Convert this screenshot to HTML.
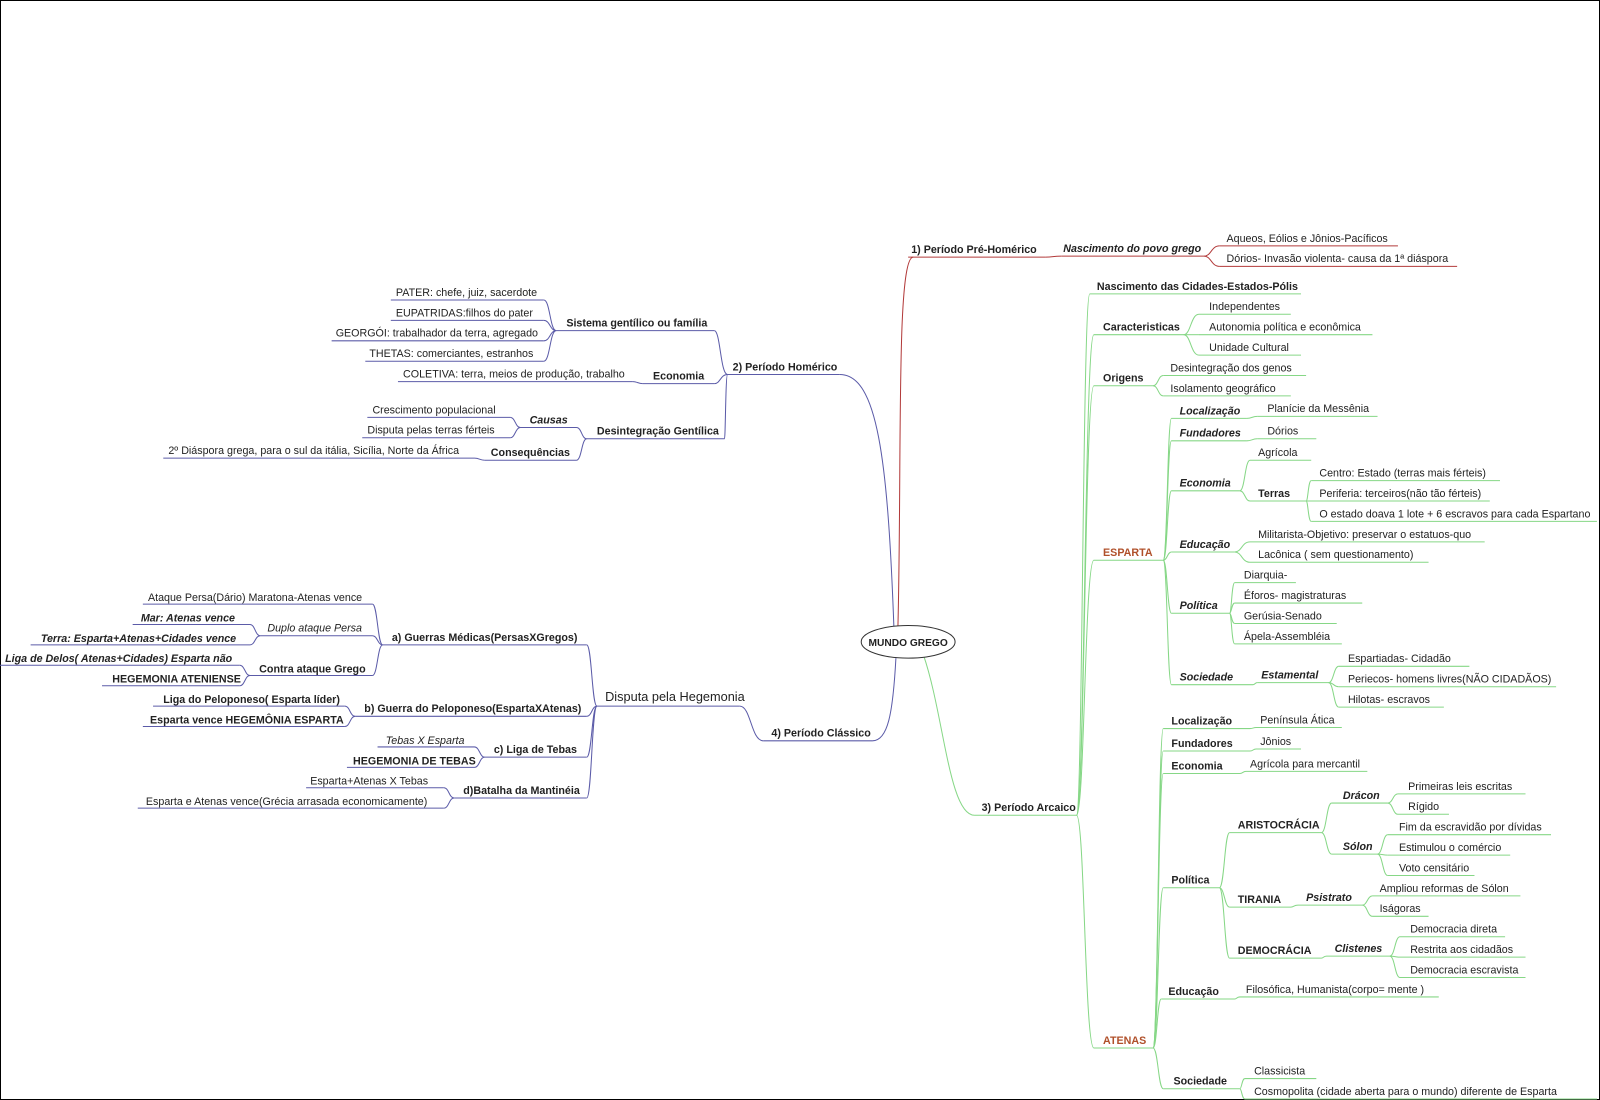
<!DOCTYPE html>
<html><head><meta charset="utf-8"><style>
html,body{margin:0;padding:0;background:#fff;width:1600px;height:1100px;overflow:hidden}
svg{display:block}
text{font-family:"Liberation Sans",Arial,sans-serif;font-size:10.5px;fill:#222}
.b{font-weight:bold}.i{font-style:italic}.bi{font-weight:bold;font-style:italic}
.g path,.g line{stroke:#86d786;fill:none;stroke-width:1}
.u path,.u line{stroke:#5b5ba8;fill:none;stroke-width:1}
.r path,.r line{stroke:#b23a3a;fill:none;stroke-width:1}
.br{fill:#b0502a;font-weight:bold}
</style></head><body>
<svg width="1600" height="1100" viewBox="0 0 1600 1100" xmlns="http://www.w3.org/2000/svg">
<rect x="0.5" y="0.5" width="1599" height="1099" fill="#fff" stroke="#000"/>
<g transform="scale(1.0204)">
<!-- RED -->
<g class="r">
<path d="M880 613C884 450 878 252 895 252"/>
<line x1="890" y1="252" x2="1025" y2="252"/>
<path d="M1025 252C1032 252 1032 251 1040 251"/>
<line x1="1040" y1="251" x2="1180" y2="251"/>
<path d="M1180 251C1187 251 1187 241 1195 241"/><path d="M1180 251C1187 251 1187 261 1195 261"/>
<line x1="1195" y1="241" x2="1370" y2="241"/><line x1="1195" y1="261" x2="1428" y2="261"/>
</g>
<text x="893" y="248" class="b">1) Período Pré-Homérico</text>
<text x="1042" y="247" class="bi">Nascimento do povo grego</text>
<text x="1202" y="237">Aqueos, Eólios e Jônios-Pacíficos</text>
<text x="1202" y="257">Dórios- Invasão violenta- causa da 1ª diáspora</text>

<!-- BLUE -->
<g class="u">
<path d="M876 614C870 450 860 367 823 367"/>
<line x1="713" y1="367" x2="823" y2="367"/>
<path d="M713 367C706 367 706 324 700 324"/><path d="M713 367C706 367 706 376 700 376"/><path d="M713 367C711 367 711 430 710 430"/>
<line x1="545" y1="324" x2="700" y2="324"/>
<path d="M545 324C539 324 539 294 533 294"/><path d="M545 324C539 324 539 314 533 314"/><path d="M545 324C539 324 539 334 533 334"/><path d="M545 324C539 324 539 354 533 354"/>
<line x1="383" y1="294" x2="533" y2="294"/><line x1="383" y1="314" x2="533" y2="314"/><line x1="325" y1="334" x2="533" y2="334"/><line x1="358" y1="354" x2="533" y2="354"/>
<line x1="630" y1="376" x2="700" y2="376"/><path d="M630 376C625 376 625 374 620 374"/><line x1="390" y1="374" x2="620" y2="374"/>
<line x1="575" y1="430" x2="710" y2="430"/>
<path d="M575 430C570 430 570 419 565 419"/><path d="M575 430C570 430 570 451 565 451"/>
<line x1="510" y1="419" x2="565" y2="419"/><line x1="475" y1="451" x2="565" y2="451"/>
<path d="M510 419C505 419 505 409 500 409"/><path d="M510 419C505 419 505 429 500 429"/>
<line x1="360" y1="409" x2="500" y2="409"/><line x1="355" y1="429" x2="500" y2="429"/>
<path d="M475 451C470 451 470 449 465 449"/><line x1="160" y1="449" x2="465" y2="449"/>
<!-- Classico -->
<path d="M878 645C875 700 870 726 855 726"/>
<line x1="748" y1="726" x2="855" y2="726"/>
<path d="M748 726C736 726 736 692 725 692"/>
<line x1="585" y1="692" x2="725" y2="692"/>
<path d="M585 692C580 692 580 632 575 632"/><path d="M585 692C580 692 580 702 575 702"/><path d="M585 692C580 692 580 742 575 742"/><path d="M585 692C580 692 580 782 575 782"/>
<line x1="375" y1="632" x2="575" y2="632"/><line x1="348" y1="702" x2="575" y2="702"/><line x1="475" y1="742" x2="575" y2="742"/><line x1="445" y1="782" x2="575" y2="782"/>
<path d="M375 632C370 632 370 592 365 592"/><path d="M375 632C370 632 370 623 365 623"/><path d="M375 632C370 632 370 662 365 662"/>
<line x1="140" y1="592" x2="365" y2="592"/><line x1="255" y1="623" x2="365" y2="623"/><line x1="245" y1="662" x2="365" y2="662"/>
<path d="M255 623C250 623 250 612 245 612"/><path d="M255 623C250 623 250 632 245 632"/>
<line x1="130" y1="612" x2="245" y2="612"/><line x1="30" y1="632" x2="245" y2="632"/>
<path d="M245 662C240 662 240 652 235 652"/><path d="M245 662C240 662 240 672 235 672"/>
<line x1="0" y1="652" x2="235" y2="652"/><line x1="100" y1="672" x2="235" y2="672"/>
<path d="M348 702C343 702 343 692 338 692"/><path d="M348 702C343 702 343 712 338 712"/>
<line x1="150" y1="692" x2="338" y2="692"/><line x1="140" y1="712" x2="338" y2="712"/>
<path d="M475 742C470 742 470 732 465 732"/><path d="M475 742C470 742 470 752 465 752"/>
<line x1="370" y1="732" x2="465" y2="732"/><line x1="340" y1="752" x2="465" y2="752"/>
<path d="M445 782C440 782 440 772 435 772"/><path d="M445 782C440 782 440 792 435 792"/>
<line x1="300" y1="772" x2="435" y2="772"/><line x1="135" y1="792" x2="435" y2="792"/>
</g>
<text x="718" y="363" class="b">2) Período Homérico</text>
<text x="555" y="320" class="b">Sistema gentílico ou família</text>
<text x="388" y="290">PATER: chefe, juiz, sacerdote</text>
<text x="388" y="310">EUPATRIDAS:filhos do pater</text>
<text x="329" y="330">GEORGÓI: trabalhador da terra, agregado</text>
<text x="362" y="350">THETAS: comerciantes, estranhos</text>
<text x="640" y="372" class="b">Economia</text>
<text x="395" y="370">COLETIVA: terra, meios de produção, trabalho</text>
<text x="585" y="426" class="b">Desintegração Gentílica</text>
<text x="519" y="415" class="bi">Causas</text>
<text x="365" y="405">Crescimento populacional</text>
<text x="360" y="425">Disputa pelas terras férteis</text>
<text x="481" y="447" class="b">Consequências</text>
<text x="165" y="445">2º Diáspora grega, para o sul da itália, Sicília, Norte da África</text>
<text x="756" y="722" class="b">4) Período Clássico</text>
<text x="593" y="687" style="font-size:12.5px">Disputa pela Hegemonia</text>
<text x="384" y="628" class="b">a) Guerras Médicas(PersasXGregos)</text>
<text x="145" y="589">Ataque Persa(Dário) Maratona-Atenas vence</text>
<text x="262" y="619" class="i">Duplo ataque Persa</text>
<text x="138" y="609" class="bi">Mar: Atenas vence</text>
<text x="40" y="629" class="bi">Terra: Esparta+Atenas+Cidades vence</text>
<text x="254" y="659" class="b">Contra ataque Grego</text>
<text x="5" y="649" class="bi">Liga de Delos( Atenas+Cidades) Esparta não</text>
<text x="110" y="669" class="b">HEGEMONIA ATENIENSE</text>
<text x="357" y="698" class="b">b) Guerra do Peloponeso(EspartaXAtenas)</text>
<text x="160" y="689" class="b">Liga do Peloponeso( Esparta líder)</text>
<text x="147" y="709" class="b">Esparta vence HEGEMÔNIA ESPARTA</text>
<text x="484" y="738" class="b">c) Liga de Tebas</text>
<text x="378" y="729" class="i">Tebas X Esparta</text>
<text x="346" y="749" class="b">HEGEMONIA DE TEBAS</text>
<text x="454" y="778" class="b">d)Batalha da Mantinéia</text>
<text x="304" y="769">Esparta+Atenas  X Tebas</text>
<text x="143" y="789">Esparta e Atenas vence(Grécia arrasada economicamente)</text>

<!-- GREEN -->
<g class="g">
<path d="M905 642C925 700 930 799 955 799"/>
<line x1="955" y1="799" x2="1055" y2="799"/>
<path d="M1055 799C1061 799 1061 288 1068 288"/><path d="M1055 799C1063 799 1063 328 1072 328"/><path d="M1055 799C1063 799 1063 378 1072 378"/><path d="M1055 799C1063 799 1063 549 1072 549"/><path d="M1055 799C1063 799 1063 1027 1072 1027"/>
<line x1="1068" y1="288" x2="1275" y2="288"/>
<line x1="1072" y1="328" x2="1160" y2="328"/>
<path d="M1160 328C1167 328 1167 308 1175 308"/><path d="M1160 328C1167 328 1167 328 1175 328"/><path d="M1160 328C1167 328 1167 348 1175 348"/>
<line x1="1175" y1="308" x2="1265" y2="308"/><line x1="1175" y1="328" x2="1345" y2="328"/><line x1="1175" y1="348" x2="1275" y2="348"/>
<line x1="1072" y1="378" x2="1130" y2="378"/>
<path d="M1130 378C1135 378 1135 368 1140 368"/><path d="M1130 378C1135 378 1135 388 1140 388"/>
<line x1="1140" y1="368" x2="1280" y2="368"/><line x1="1140" y1="388" x2="1265" y2="388"/>
<line x1="1072" y1="549" x2="1140" y2="549"/>
<path d="M1140 549C1144 549 1144 410 1148 410"/><path d="M1140 549C1144 549 1144 432 1148 432"/><path d="M1140 549C1144 549 1144 481 1148 481"/><path d="M1140 549C1144 549 1144 541 1148 541"/><path d="M1140 549C1144 549 1144 601 1148 601"/><path d="M1140 549C1144 549 1144 671 1148 671"/>
<line x1="1148" y1="410" x2="1222" y2="410"/><path d="M1222 410C1227 410 1227 408 1232 408"/><line x1="1232" y1="408" x2="1350" y2="408"/>
<line x1="1148" y1="432" x2="1222" y2="432"/><path d="M1222 432C1227 432 1227 430 1232 430"/><line x1="1232" y1="430" x2="1290" y2="430"/>
<line x1="1148" y1="481" x2="1215" y2="481"/>
<path d="M1215 481C1220 481 1220 451 1225 451"/><path d="M1215 481C1220 481 1220 491 1225 491"/>
<line x1="1225" y1="451" x2="1285" y2="451"/><line x1="1225" y1="491" x2="1280" y2="491"/>
<path d="M1280 491C1282 491 1282 471 1285 471"/><path d="M1280 491C1282 491 1282 511 1285 511"/>
<line x1="1285" y1="471" x2="1470" y2="471"/><line x1="1280" y1="491" x2="1460" y2="491"/><line x1="1285" y1="511" x2="1565" y2="511"/>
<line x1="1148" y1="541" x2="1210" y2="541"/>
<path d="M1210 541C1217 541 1217 531 1225 531"/><path d="M1210 541C1217 541 1217 551 1225 551"/>
<line x1="1225" y1="531" x2="1455" y2="531"/><line x1="1225" y1="551" x2="1400" y2="551"/>
<line x1="1148" y1="601" x2="1205" y2="601"/>
<path d="M1205 601C1207 601 1207 571 1210 571"/><path d="M1205 601C1207 601 1207 591 1210 591"/><path d="M1205 601C1207 601 1207 611 1210 611"/><path d="M1205 601C1207 601 1207 631 1210 631"/>
<line x1="1210" y1="571" x2="1270" y2="571"/><line x1="1210" y1="591" x2="1335" y2="591"/><line x1="1210" y1="611" x2="1310" y2="611"/><line x1="1210" y1="631" x2="1315" y2="631"/>
<line x1="1148" y1="671" x2="1228" y2="671"/><path d="M1228 671C1230 671 1230 669 1232 669"/><line x1="1232" y1="669" x2="1302" y2="669"/>
<path d="M1302 669C1307 669 1307 653 1312 653"/><path d="M1302 669C1307 669 1307 673 1312 673"/><path d="M1302 669C1307 669 1307 693 1312 693"/>
<line x1="1312" y1="653" x2="1440" y2="653"/><line x1="1312" y1="673" x2="1525" y2="673"/><line x1="1312" y1="693" x2="1415" y2="693"/>
<line x1="1072" y1="1027" x2="1130" y2="1027"/>
<path d="M1130 1027C1135 1027 1135 714 1140 714"/><path d="M1130 1027C1135 1027 1135 736 1140 736"/><path d="M1130 1027C1135 1027 1135 758 1140 758"/><path d="M1130 1027C1135 1027 1135 870 1140 870"/><path d="M1130 1027C1134 1027 1134 979 1138 979"/><path d="M1130 1027C1135 1027 1135 1067 1140 1067"/>
<path d="M1140 714L1225 714C1228 714 1228 713 1231 713L1315 713"/>
<path d="M1140 736L1225 736C1228 736 1228 734 1231 734L1275 734"/>
<path d="M1140 758L1215 758C1218 758 1218 756 1221 756L1340 756"/>
<line x1="1140" y1="870" x2="1195" y2="870"/>
<path d="M1195 870C1200 870 1200 816 1205 816"/><path d="M1195 870C1200 870 1200 889 1205 889"/><path d="M1195 870C1200 870 1200 939 1205 939"/>
<line x1="1205" y1="816" x2="1295" y2="816"/>
<path d="M1295 816C1300 816 1300 787 1305 787"/><path d="M1295 816C1300 816 1300 837 1305 837"/>
<line x1="1305" y1="787" x2="1360" y2="787"/><line x1="1305" y1="837" x2="1350" y2="837"/>
<path d="M1360 787C1365 787 1365 778 1370 778"/><path d="M1360 787C1365 787 1365 798 1370 798"/>
<line x1="1370" y1="778" x2="1495" y2="778"/><line x1="1370" y1="798" x2="1420" y2="798"/>
<path d="M1350 837C1355 837 1355 818 1360 818"/><path d="M1350 837C1355 837 1355 838 1360 838"/><path d="M1350 837C1355 837 1355 858 1360 858"/>
<line x1="1360" y1="818" x2="1520" y2="818"/><line x1="1360" y1="838" x2="1480" y2="838"/><line x1="1360" y1="858" x2="1445" y2="858"/>
<path d="M1205 889L1265 889C1268 889 1268 887 1272 887L1335 887"/>
<path d="M1335 887C1340 887 1340 878 1345 878"/><path d="M1335 887C1340 887 1340 898 1345 898"/>
<line x1="1345" y1="878" x2="1490" y2="878"/><line x1="1345" y1="898" x2="1400" y2="898"/>
<path d="M1205 939L1295 939C1297 939 1297 937 1300 937L1362 937"/>
<path d="M1362 937C1367 937 1367 918 1372 918"/><path d="M1362 937C1367 937 1367 938 1372 938"/><path d="M1362 937C1367 937 1367 958 1372 958"/>
<line x1="1372" y1="918" x2="1475" y2="918"/><line x1="1372" y1="938" x2="1495" y2="938"/><line x1="1372" y1="958" x2="1495" y2="958"/>
<path d="M1138 979L1210 979C1212 979 1212 977 1215 977L1410 977"/>
<line x1="1140" y1="1067" x2="1215" y2="1067"/>
<path d="M1215 1067C1217 1067 1217 1057 1220 1057"/><path d="M1215 1067C1217 1067 1217 1077 1220 1077"/>
<line x1="1220" y1="1057" x2="1290" y2="1057"/><line x1="1220" y1="1077" x2="1565" y2="1077"/>
</g>
<text x="962" y="795" class="b">3) Período Arcaico</text>
<text x="1075" y="284" class="b">Nascimento das Cidades-Estados-Pólis</text>
<text x="1081" y="324" class="b">Caracteristicas</text>
<text x="1185" y="304">Independentes</text>
<text x="1185" y="324">Autonomia política e econômica</text>
<text x="1185" y="344">Unidade Cultural</text>
<text x="1081" y="374" class="b">Origens</text>
<text x="1147" y="364">Desintegração dos genos</text>
<text x="1147" y="384">Isolamento geográfico</text>
<text x="1081" y="545" class="br">ESPARTA</text>
<text x="1156" y="406" class="bi">Localização</text>
<text x="1242" y="404">Planície da Messênia</text>
<text x="1156" y="428" class="bi">Fundadores</text>
<text x="1242" y="426">Dórios</text>
<text x="1156" y="477" class="bi">Economia</text>
<text x="1233" y="447">Agrícola</text>
<text x="1233" y="487" class="b">Terras</text>
<text x="1293" y="467">Centro: Estado (terras mais férteis)</text>
<text x="1293" y="487">Periferia: terceiros(não tão férteis)</text>
<text x="1293" y="507">O estado doava 1 lote + 6 escravos para cada Espartano</text>
<text x="1156" y="537" class="bi">Educação</text>
<text x="1233" y="527">Militarista-Objetivo: preservar o estatuos-quo</text>
<text x="1233" y="547">Lacônica ( sem questionamento)</text>
<text x="1156" y="597" class="bi">Política</text>
<text x="1219" y="567">Diarquia-</text>
<text x="1219" y="587">Éforos- magistraturas</text>
<text x="1219" y="607">Gerúsia-Senado</text>
<text x="1219" y="627">Ápela-Assembléia</text>
<text x="1156" y="667" class="bi">Sociedade</text>
<text x="1236" y="665" class="bi">Estamental</text>
<text x="1321" y="649">Espartiadas- Cidadão</text>
<text x="1321" y="669">Periecos- homens livres(NÃO CIDADÃOS)</text>
<text x="1321" y="689">Hilotas- escravos</text>
<text x="1081" y="1023" class="br">ATENAS</text>
<text x="1148" y="710" class="b">Localização</text>
<text x="1235" y="709">Península Ática</text>
<text x="1148" y="732" class="b">Fundadores</text>
<text x="1235" y="730">Jônios</text>
<text x="1148" y="754" class="b">Economia</text>
<text x="1225" y="752">Agrícola para mercantil</text>
<text x="1148" y="866" class="b">Política</text>
<text x="1213" y="812" class="b">ARISTOCRÁCIA</text>
<text x="1316" y="783" class="bi">Drácon</text>
<text x="1380" y="774">Primeiras leis escritas</text>
<text x="1380" y="794">Rígido</text>
<text x="1316" y="833" class="bi">Sólon</text>
<text x="1371" y="814">Fim da escravidão por dívidas</text>
<text x="1371" y="834">Estimulou o comércio</text>
<text x="1371" y="854">Voto censitário</text>
<text x="1213" y="885" class="b">TIRANIA</text>
<text x="1280" y="883" class="bi">Psistrato</text>
<text x="1352" y="874">Ampliou reformas de Sólon</text>
<text x="1352" y="894">Iságoras</text>
<text x="1213" y="935" class="b">DEMOCRÁCIA</text>
<text x="1308" y="933" class="bi">Clistenes</text>
<text x="1382" y="914">Democracia direta</text>
<text x="1382" y="934">Restrita aos cidadãos</text>
<text x="1382" y="954">Democracia escravista</text>
<text x="1145" y="975" class="b">Educação</text>
<text x="1221" y="973">Filosófica, Humanista(corpo= mente )</text>
<text x="1150" y="1063" class="b">Sociedade</text>
<text x="1229" y="1053">Classicista</text>
<text x="1229" y="1073">Cosmopolita (cidade aberta para o mundo) diferente de Esparta</text>

<!-- ROOT -->
<ellipse cx="890" cy="629" rx="46" ry="16" fill="#fff" stroke="#333" stroke-width="1"/>
<text x="890" y="633" text-anchor="middle" class="b" style="font-size:10px">MUNDO GREGO</text>
</g>
</svg>
</body></html>
